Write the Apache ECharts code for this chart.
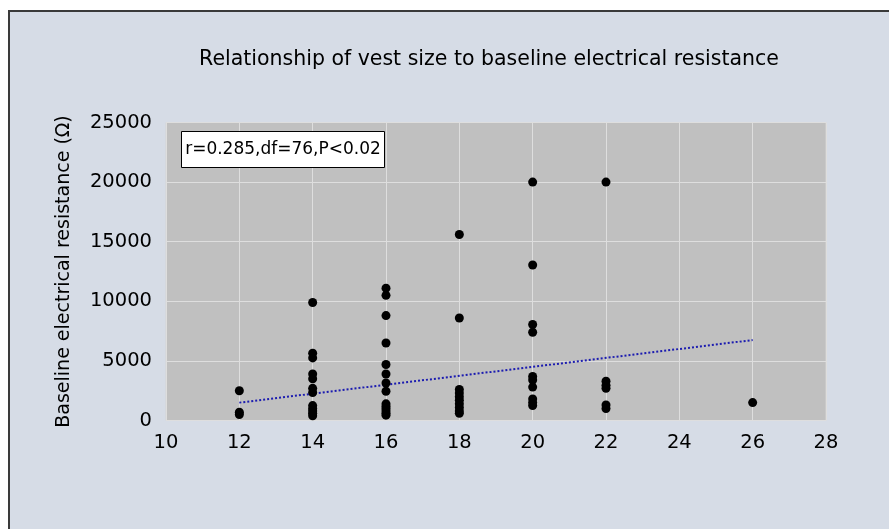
<!DOCTYPE html>
<html>
<head>
<meta charset="utf-8">
<script src="https://cdn.jsdelivr.net/npm/echarts@6/dist/echarts.min.js"></script>
<style>
  html, body { margin: 0; padding: 0; background: #ffffff; }
  #panel { position: absolute; left: 8px; top: 10px; width: 881px; height: 519px;
           background: #d6dce6; border-left: 2px solid #3a3a3a; border-top: 2px solid #3a3a3a; box-sizing: border-box; }
  #chart { position: absolute; left: 0; top: 0; width: 889px; height: 529px; }
</style>
</head>
<body>
<div id="panel"></div>
<div id="chart"></div>
<script>
// Vest size (x) and baseline electrical resistance in ohms (y)
const vestSize = [
  12, 12, 12,
  14, 14, 14, 14, 14, 14, 14, 14, 14, 14, 14, 14,
  16, 16, 16, 16, 16, 16, 16, 16, 16, 16, 16, 16, 16, 16,
  18, 18, 18, 18, 18, 18, 18, 18, 18, 18,
  20, 20, 20, 20, 20, 20, 20, 20, 20, 20,
  22, 22, 22, 22, 22, 22,
  26
];
const resistance = [
  2500, 700, 500,
  9900, 5650, 5250, 3900, 3500, 2700, 2350, 1250, 1000, 800, 600, 400,
  11100, 10500, 8800, 6500, 4700, 3900, 3150, 2450, 1400, 1200, 1000, 800, 600, 450,
  15600, 8600, 2600, 2300, 2000, 1700, 1400, 1100, 800, 600,
  20000, 13050, 8050, 7400, 3700, 3400, 2800, 1800, 1500, 1250,
  20000, 3300, 2950, 2700, 1300, 1000,
  1500
];
// Regression (trend) line end points
const trendX = [12, 26];
const trendY = [1500, 6750];
const xTicks = [10, 12, 14, 16, 18, 20, 22, 24, 26, 28];
const yTicks = [0, 5000, 10000, 15000, 20000, 25000];

const titleText = 'Relationship of vest size to baseline electrical resistance';
const yName = 'Baseline electrical resistance (\u03A9)';
const statText = 'r=0.285,df=76,P<0.02';

const points = vestSize.map((x, i) => [x, resistance[i]]);
const trend = trendX.map((x, i) => [x, trendY[i]]);

const FONT = '"DejaVu Sans", sans-serif';
const chart = echarts.init(document.getElementById('chart'));
chart.setOption({
  backgroundColor: 'transparent',
  animation: false,
  title: {
    text: titleText,
    left: 484, top: 44, textAlign: 'center',
    textStyle: { fontFamily: FONT, fontSize: 20.5, fontWeight: 'normal', color: '#000' }
  },
  grid: {
    left: 166, top: 122.5, right: 63, bottom: 108.5,
    show: true, backgroundColor: '#c0c0c0', borderColor: '#d4d4d4', borderWidth: 1
  },
  xAxis: {
    type: 'value', min: xTicks[0], max: xTicks[xTicks.length - 1], interval: 2,
    axisLine: { show: false }, axisTick: { show: false },
    axisLabel: { fontFamily: FONT, fontSize: 19.5, color: '#000', margin: 12 },
    splitLine: { show: true, lineStyle: { color: '#dedede', width: 1 } }
  },
  yAxis: {
    type: 'value', min: yTicks[0], max: yTicks[yTicks.length - 1], interval: 5000,
    name: yName, nameLocation: 'middle', nameGap: 92,
    nameTextStyle: { fontFamily: FONT, fontSize: 19, color: '#000' },
    axisLine: { show: false }, axisTick: { show: false },
    axisLabel: { fontFamily: FONT, fontSize: 19.5, color: '#000', margin: 14,
                 formatter: v => String(v) },
    splitLine: { show: true, lineStyle: { color: '#dedede', width: 1 } }
  },
  series: [
    {
      type: 'line', data: trend, symbol: 'none', silent: true, z: 3,
      lineStyle: { color: '#1c1cb0', width: 2, type: [2, 2] }
    },
    {
      type: 'scatter', data: points, symbol: 'circle', symbolSize: 9, z: 4,
      itemStyle: { color: '#000', opacity: 1 }
    }
  ],
  graphic: [
    {
      type: 'group', left: 181, top: 131, z: 100,
      children: [
        { type: 'rect', z: 100, shape: { x: 0, y: 0, width: 203, height: 36 },
          style: { fill: '#ffffff', stroke: '#000000', lineWidth: 1 } },
        { type: 'text', z: 101, x: 101.5, y: 18,
          style: { text: statText, fontFamily: FONT, fontSize: 17, fill: '#000',
                   align: 'center', verticalAlign: 'middle' } }
      ]
    }
  ]
});
</script>
</body>
</html>
